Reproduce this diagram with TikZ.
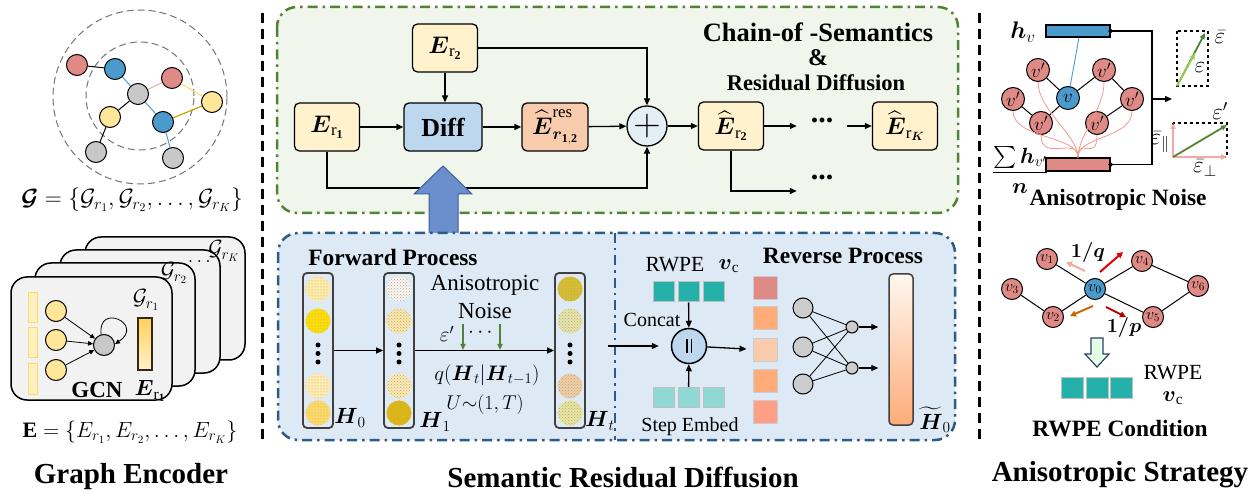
\RequirePackage{fix-cm}
\documentclass[tikz,border=0pt]{standalone}
\usepackage{amsmath,amssymb}
\usepackage{fontspec}
\setmainfont{Liberation Serif}
\usetikzlibrary{arrows.meta,shapes.geometric,patterns,calc}
\definecolor{eyel}{HTML}{FFF2CC}
\definecolor{dblue}{HTML}{BDD7EE}
\definecolor{dorange}{HTML}{F8CBAD}
\definecolor{plusbg}{HTML}{E4EEF5}
\definecolor{gpanel}{HTML}{F0F6EC}
\definecolor{gborder}{HTML}{548235}
\definecolor{bpanel}{HTML}{DDE9F5}
\definecolor{bborder}{HTML}{2E5A88}
\definecolor{nred}{HTML}{E08A85}
\definecolor{nblue}{HTML}{4A9BCB}
\definecolor{ngray}{HTML}{C8C8C8}
\definecolor{nyel}{HTML}{FFE699}
\definecolor{teala}{HTML}{26B0AA}
\definecolor{tealb}{HTML}{90D8D3}
\definecolor{bigarrow}{HTML}{6A8FCC}
\definecolor{bigarrowd}{HTML}{3B5E9A}
\definecolor{cardbg}{HTML}{F2F2F2}
\definecolor{dgreen}{HTML}{548235}
\definecolor{lgreen}{HTML}{92D050}
\definecolor{pinkarr}{HTML}{F4A8A0}
\definecolor{goldl}{HTML}{FFD966}
\definecolor{goldd}{HTML}{C9A000}
\newcommand{\setfs}[1]{\fontsize{#1}{#1}\selectfont}
\newcommand{\hcirc}[4]{\path[fill=#3, postaction={pattern=#4, pattern color=black!35}] (#1,#2) circle (12.5pt);}
\begin{document}
\begin{tikzpicture}[x=1pt,y=-1pt,
  arr/.style={-{Triangle[length=7pt,width=6pt]}, line width=1.3pt},
  thinarr/.style={-{Triangle[length=5pt,width=4.5pt]}, line width=0.8pt},
  ebox/.style={draw, line width=1.3pt, rounded corners=5pt, minimum width=65pt, minimum height=48pt, fill=eyel, inner sep=0pt, font=\setfs{24}},
  gnode/.style={circle, draw, line width=1pt, minimum size=21pt, inner sep=0pt},
  dashdotx/.style={line width=2.5pt, dash pattern=on 10pt off 5pt on 2.5pt off 5pt},
  vsepline/.style={line width=3pt, dash pattern=on 10pt off 6pt},
  btitle/.style={font=\bfseries\setfs{23.4}},
  bigtitle/.style={font=\bfseries\setfs{29}},
  colbox/.style={draw=black!75, line width=1.8pt, rounded corners=4pt, minimum width=30pt, minimum height=155pt, inner sep=0pt},
  sq/.style={draw=black!25, line width=1pt, minimum width=21pt, minimum height=20pt, inner sep=0pt},
  csq/.style={draw=black!20, line width=1pt, minimum width=24pt, minimum height=23pt, inner sep=0pt},
  vnode/.style={circle, draw, line width=1pt, fill=nred, minimum size=23pt, inner sep=0pt, font=\setfs{19}},
  wnode/.style={circle, draw, line width=1pt, fill=nred, minimum size=21pt, inner sep=0pt, font=\setfs{16}},
  lbl/.style={font=\setfs{22}, inner sep=0pt},
  cardbox/.style={draw, line width=1.5pt, fill=cardbg, rounded corners=16pt},
  dotsnode/.style={font=\bfseries\setfs{30}, minimum width=50pt, inner sep=0pt},
]
\useasboundingbox (0,0) rectangle (1256,494);

% ================= LEFT: Graph Encoder =================
\draw[black!55, line width=1pt, dash pattern=on 7pt off 4pt] (140,97) circle (87pt);
\draw[black!55, line width=1pt, dash pattern=on 7pt off 4pt] (140,96) circle (54pt);
\node[gnode, fill=nred] (ga) at (77,65) {};
\node[gnode, fill=nblue] (gb) at (115,69) {};
\node[gnode, fill=nred] (gc) at (172,78) {};
\node[gnode, fill=ngray] (gd) at (138,94) {};
\node[gnode, fill=nyel] (ge) at (212,102) {};
\node[gnode, fill=nyel] (gf) at (110,117) {};
\node[gnode, fill=nblue] (gg) at (163,122) {};
\node[gnode, fill=ngray] (gh) at (96,152) {};
\node[gnode, fill=ngray] (gi) at (173,158) {};
\draw[line width=1pt] (ga) -- (gb);
\draw[nblue, line width=1pt] (gb) -- (gd);
\draw[pinkarr, line width=1pt] (gd) -- (gc);
\draw[goldl, line width=1pt] (gc) -- (ge);
\draw[goldd, line width=1.2pt] (ge) -- (gg);
\draw[nblue, line width=1pt] (gd) -- (gg);
\draw[line width=1pt] (gd) -- (gf);
\draw[line width=1pt] (gf) -- (gh);
\draw[nblue, line width=1pt] (gg) -- (gi);
\node[lbl, font=\setfs{23.5}] (gform) at (132,200) {$\boldsymbol{\mathcal{G}}=\{\mathcal{G}_{r_1},\mathcal{G}_{r_2},\dots,\mathcal{G}_{r_K}\}$};

% cards
\draw[cardbox] (85,237) rectangle (245,360);
\draw[cardbox] (60,250) rectangle (220,373);
\draw[cardbox] (35,263) rectangle (195,386);
\draw[cardbox] (11,277) rectangle (172,400);
\node[lbl] (gk) at (224,251) {$\mathcal{G}_{r_K}$};
\node[lbl, font=\setfs{20}] (gdots) at (201,262) {$\dots$};
\node[lbl] (g2) at (174,273) {$\mathcal{G}_{r_2}$};
\node[lbl] (g1) at (146,300) {$\mathcal{G}_{r_1}$};
\foreach \yy in {293,328,364}{
  \draw[fill=nyel!60, draw=goldl, line width=1pt] (28,\yy) rectangle (37,\yy+30);
}
\node[gnode, fill=nyel] (y1) at (56,311) {};
\node[gnode, fill=nyel] (y2) at (56,340) {};
\node[gnode, fill=nyel] (y3) at (56,370) {};
\node[gnode, fill=ngray] (gcn) at (104,345) {};
\draw[thinarr] (y1) -- (gcn);
\draw[thinarr] (y2) -- (gcn);
\draw[thinarr] (y3) -- (gcn);
\draw[thinarr] (gcn.105) .. controls +(-4,-32) and +(30,-20) .. (gcn.5);
\node[draw=black!70!brown, line width=1.3pt, minimum width=14pt, minimum height=52pt, inner sep=0pt, top color=goldl!90!orange, bottom color=eyel] (ebar) at (145,344) {};
\node[font=\bfseries\setfs{23}] (gcnl) at (97,390) {GCN};
\node[lbl] (ebl) at (150,391) {$\boldsymbol{E}_{\mathrm{r}_{\mathbf{1}}}$};
\node[lbl] (eform) at (130,432) {$\mathbf{E}=\{E_{r_1},E_{r_2},\dots,E_{r_K}\}$};
\node[bigtitle] (t1) at (131,477) {Graph Encoder};

% separators
\draw[vsepline] (262,13) -- (262,440);
\draw[vsepline] (979,13) -- (979,440);

% ================= MIDDLE TOP =================
\draw[gborder, fill=gpanel, dashdotx, rounded corners=20pt] (277,7) rectangle (958,213);
\node[ebox] (er2) at (445,48) {$\boldsymbol{E}_{\mathrm{r}_{\mathbf{2}}}$};
\node[ebox] (er1) at (327,127) {$\boldsymbol{E}_{\mathrm{r}_{\mathbf{1}}}$};
\node[ebox, fill=dblue, minimum width=78pt, font=\bfseries\setfs{26}] (diff) at (443,127) {Diff};
\node[ebox, fill=dorange, minimum width=66pt] (eres) at (555,127) {$\widehat{\boldsymbol{E}}^{\mathrm{res}}_{\boldsymbol{r}_{\mathbf{1,2}}}$};
\node[circle, draw, line width=1.3pt, fill=plusbg, minimum size=40pt, inner sep=0pt, font=\setfs{38}] (plus) at (647,126) {$+$};
\node[ebox] (er2h) at (731,126) {$\widehat{\boldsymbol{E}}_{\mathrm{r}_{\mathbf{2}}}$};
\node[dotsnode] (dots1) at (822,120) {...};
\node[ebox] (erkh) at (905,126) {$\widehat{\boldsymbol{E}}_{\mathrm{r}_{\boldsymbol{K}}}$};
\node[dotsnode] (dots2) at (822,177) {...};
\coordinate (low) at (0,188);
\draw[arr] (er1) -- (diff);
\draw[arr] (er2.south) -- (er2.south |- diff.north);
\draw[arr] (diff) -- (eres);
\draw[arr] (eres) -- (plus);
\draw[arr] (er2.east) -| (plus.north);
\draw[arr] (er1.south) |- (plus.south |- low) -- (plus.south);
\draw[arr] (plus) -- (er2h);
\draw[arr] (er2h.east) -- (er2h.east -| dots1.west);
\draw[arr] (er2h.east -| dots1.east) -- (erkh.west);
\draw[arr] (er2h.south) |- ($(dots2.west)+(0,14)$);
\node[font=\bfseries\setfs{26.5}] (ct1) at (818,32) {Chain-of -Semantics};
\node[font=\bfseries\setfs{24}] (ct2) at (818,58) {\&};
\node[font=\bfseries\setfs{22.5}] (ct3) at (816,83) {Residual Diffusion};

% big arrow
\draw[fill=bigarrow, draw=bigarrowd, line width=1pt] (429,236) -- (429,194) -- (414,194) -- (443,166) -- (472,194) -- (458,194) -- (458,236) -- cycle;

% ================= MIDDLE BOTTOM =================
\draw[bborder, fill=bpanel, dashdotx, rounded corners=20pt] (278,233) rectangle (955,440);
\draw[bborder, dashdotx] (615,233) -- (615,440);
\node[btitle] (fp) at (393,257) {Forward Process};
\node[btitle] (rp) at (843,256) {Reverse Process};

\node[colbox] (c0) at (318,350.5) {};
\node[colbox] (c1) at (399,350.5) {};
\node[colbox] (ct) at (570,350.5) {};
\hcirc{318}{289}{nyel!85}{dots}
\hcirc{318}{321}{yellow!80!orange}{dots}
\hcirc{318}{386}{nyel!80}{dots}
\hcirc{318}{413}{goldl}{dots}
\hcirc{399}{289}{eyel!80!brown!20}{crosshatch dots}
\hcirc{399}{321}{goldl!60}{crosshatch dots}
\hcirc{399}{386}{goldl!55}{crosshatch dots}
\hcirc{399}{413}{orange!40!yellow!90!black}{crosshatch dots}
\hcirc{570}{289}{yellow!75!orange!85!black}{crosshatch dots}
\hcirc{570}{321}{black!25!yellow!40}{crosshatch dots}
\hcirc{570}{386}{nred!70!yellow!60}{crosshatch dots}
\hcirc{570}{413}{black!20!yellow!45}{crosshatch dots}
\foreach \cx in {318,399,570}{
  \foreach \cy in {345,353.5,362}{ \fill (\cx,\cy) circle (2.5pt); }
}
\node[lbl] (h0l) at (350,418) {$\boldsymbol{H}_0$};
\node[lbl] (h1l) at (435,422) {$\boldsymbol{H}_1$};
\node[lbl] (htl) at (600,421) {$\boldsymbol{H}_t$};
\draw[arr] (c0) -- (c1);
\draw[arr] (c1) -- (ct);
\node[font=\setfs{23}] (an1) at (485,285) {Anisotropic};
\node[font=\setfs{23}] (an2) at (485,311) {Noise};
\coordinate (g1s) at (463,324);
\coordinate (g1e) at (463,350);
\coordinate (g2s) at (500,324);
\coordinate (g2e) at (500,350);
\draw[dgreen, -{Triangle[length=6pt,width=5pt]}, line width=1.5pt] (g1s) -- (g1e);
\draw[dgreen, -{Triangle[length=6pt,width=5pt]}, line width=1.5pt] (g2s) -- (g2e);
\node[lbl, font=\setfs{21}] (epsp) at (447,334) {$\varepsilon'$};
\node[lbl, font=\setfs{21}] (edots) at (482,333) {$\cdots$};
\node[lbl, font=\setfs{21}] (qq) at (487,375) {$q(\boldsymbol{H}_t|\boldsymbol{H}_{t-1})$};
\node[lbl, font=\setfs{20}] (uu) at (485,404) {$U{\sim}(1,T)$};

% reverse
\node[circle, draw, line width=1.5pt, fill=dblue, minimum size=35pt, inner sep=0pt] (cat) at (689,346) {\rule{1.6pt}{14pt}\hspace{3pt}\rule{1.6pt}{14pt}};
\draw[arr, shorten <=22pt, shorten >=12pt] (ct.east |- cat) -- (cat);
\node[font=\setfs{21.6}] (rw1) at (675,265) {RWPE};
\node[lbl] (vc1) at (729,266) {$\boldsymbol{v}_{\mathrm{c}}$};
\node[sq, fill=teala] (sa1) at (663.5,292) {};
\node[sq, fill=teala] (sa2) at (688.5,292) {};
\node[sq, fill=teala] (sa3) at (713.5,292) {};
\node[sq, fill=tealb] (sb1) at (663.5,397.5) {};
\node[sq, fill=tealb] (sb2) at (688.5,397.5) {};
\node[sq, fill=tealb] (sb3) at (713.5,397.5) {};
\draw[arr] (sa2) -- (cat);
\draw[arr] (sb2) -- (cat);
\node[font=\setfs{20}] (ccl) at (652,320) {Concat};
\node[font=\setfs{20}] (sel) at (690,427) {Step Embed};
\node[csq, fill=nred] (q1) at (765,288.5) {};
\node[csq, fill=orange!45!pink!90!white] (q2) at (765,318.5) {};
\node[csq, fill=dorange] (q3) at (765,350) {};
\node[csq, fill=orange!45!pink!90!white] (q4) at (765,380.5) {};
\node[csq, fill=red!35!orange!30!pink] (q5) at (765,411.5) {};
\draw[arr, shorten >=6pt] (cat) -- (q3);
\node[circle, draw, line width=1pt, fill=black!20, minimum size=20pt, inner sep=0pt] (n1) at (803,308) {};
\node[circle, draw, line width=1pt, fill=black!20, minimum size=20pt, inner sep=0pt] (n2) at (803,347) {};
\node[circle, draw, line width=1pt, fill=black!20, minimum size=20pt, inner sep=0pt] (n3) at (803,384) {};
\node[circle, draw, line width=1pt, fill=black!20, minimum size=12pt, inner sep=0pt] (o1) at (852,327) {};
\node[circle, draw, line width=1pt, fill=black!20, minimum size=12pt, inner sep=0pt] (o2) at (852,368) {};
\foreach \a in {n1,n2,n3}{ \foreach \b in {o1,o2}{ \draw[line width=0.8pt] (\a) -- (\b); } }
\node[draw=black!75, line width=1.5pt, rounded corners=4pt, minimum width=24pt, minimum height=151pt, inner sep=0pt, top color=orange!6!white, bottom color=orange!45!pink!90!white] (hbar) at (901,349.5) {};
\draw[arr, shorten >=10pt] (o1) -- (o1 -| hbar.west);
\draw[arr, shorten >=10pt] (o2) -- (o2 -| hbar.west);
\node[lbl] (h0t) at (935,420) {$\widetilde{\boldsymbol{H}}_0$};
\node[bigtitle] (t2) at (623,477) {Semantic Residual Diffusion};

% ================= RIGHT =================
\node[lbl, font=\setfs{24}] (hvl) at (1023,32) {$\boldsymbol{h}_v$};
\node[draw, line width=1.2pt, fill=nblue, minimum width=64pt, minimum height=12pt, inner sep=0pt] (hb) at (1078,31) {};
\node[draw, line width=1.2pt, fill=nred, minimum width=64pt, minimum height=13pt, inner sep=0pt] (rb) at (1078,164.5) {};
\node[vnode] (p1) at (1038,70) {$v'$};
\node[vnode] (p2) at (1013,99) {$v'$};
\node[vnode] (p3) at (1041,123) {$v'$};
\node[vnode, fill=nblue] (vv) at (1068,98) {$v$};
\node[vnode] (p4) at (1097,123) {$v'$};
\node[vnode] (p5) at (1104,70) {$v'$};
\node[vnode] (p6) at (1132,99) {$v'$};
\draw[line width=1pt] (p1) -- (vv);
\draw[line width=1pt] (vv) -- (p3);
\draw[line width=1pt] (p2) -- (p3);
\draw[line width=1pt] (vv) -- (p5);
\draw[line width=1pt] (p4) -- (p6);
\draw[line width=1pt] (p5) -- (p6);
\draw[nblue, line width=0.9pt] (vv) -- ($(hb.south)+(1,0)$);
\foreach \p in {p1,p2,p3,p4,p5,p6}{
  \draw[pinkarr!90!red, line width=0.8pt] (\p.south) .. controls +(0,28) and +(0,-22) .. (rb.north);
}
\node[fill=black, inner sep=0pt, minimum size=5pt, shape=diamond] (hd) at (hb.east) {};
\node[fill=black, inner sep=0pt, minimum size=5pt, shape=diamond] (rd) at (rb.east) {};
\coordinate (jn) at (1152,99);
\coordinate (jo) at (1172,99);
\draw[line width=1.2pt] (hb.east) -| (jn) |- (rb.east);
\draw[arr] (jn) -- (jo);
\node[lbl] (frac) at (1020,170) {$\dfrac{\sum\boldsymbol{h}_{v'}}{\boldsymbol{n}}$};
\node[btitle] (ant) at (1118,200) {Anisotropic Noise};

% vectors
\draw[dashed, line width=1.2pt] (1177,31) rectangle (1208,86);
\coordinate (ua) at (1177,86);
\coordinate (ub) at (1205,33);
\coordinate (uc) at (1195,53);
\draw[dgreen, -{Triangle[length=6pt,width=5pt]}, line width=1.8pt] (ua) -- (ub);
\draw[lgreen, -{Triangle[length=6pt,width=5pt]}, line width=1.8pt] (ua) -- (uc);
\node[lbl, font=\setfs{23}] (eb) at (1220,37) {$\bar{\varepsilon}$};
\node[lbl, font=\setfs{23}] (ee) at (1200,68) {$\varepsilon$};
\draw[dashed, line width=1.2pt] (1173,123) rectangle (1227,157);
\coordinate (la) at (1173,157);
\coordinate (lb) at (1227,125);
\coordinate (lc) at (1227,157);
\coordinate (ld) at (1173,123);
\draw[pinkarr, -{Triangle[length=6pt,width=5pt]}, line width=1.8pt] (la) -- (lc);
\draw[pinkarr, -{Triangle[length=6pt,width=5pt]}, line width=1.8pt] (la) -- (ld);
\draw[dgreen, -{Triangle[length=6pt,width=5pt]}, line width=1.8pt] (la) -- (lb);
\node[lbl, font=\setfs{23}] (ep) at (1220,111) {$\varepsilon'$};
\node[lbl, font=\setfs{23}] (epa) at (1160,142) {$\bar{\varepsilon}_{\parallel}$};
\node[lbl, font=\setfs{23}] (epe) at (1205,168) {$\bar{\varepsilon}_{\perp}$};

% random walk graph
\node[wnode] (w1) at (1047,259) {$v_1$};
\node[wnode] (w3) at (1012,289) {$v_3$};
\node[wnode] (w2) at (1053,317) {$v_2$};
\node[wnode, fill=nblue] (w0) at (1095,289) {$v_0$};
\node[wnode] (w4) at (1142,261) {$v_4$};
\node[wnode] (w5) at (1153,317) {$v_5$};
\node[wnode] (w6) at (1198,286) {$v_6$};
\draw[line width=1pt] (w1) -- (w0);
\draw[line width=1pt] (w3) -- (w2);
\draw[line width=1pt] (w2) -- (w0);
\draw[line width=1pt] (w0) -- (w4);
\draw[line width=1pt] (w0) -- (w5);
\draw[line width=1pt] (w4) -- (w6);
\draw[line width=1pt] (w5) -- (w6);
\coordinate (a1s) at (1085,271); \coordinate (a1e) at (1066,262);
\coordinate (a2s) at (1100,272); \coordinate (a2e) at (1123,252);
\coordinate (a3s) at (1093,306); \coordinate (a3e) at (1070,316);
\coordinate (a4s) at (1106,307); \coordinate (a4e) at (1126,317);
\draw[pinkarr, -{Triangle[length=6pt,width=6pt]}, line width=2pt] (a1s) -- (a1e);
\draw[red!90!black, -{Triangle[length=6pt,width=6pt]}, line width=2pt] (a2s) -- (a2e);
\draw[orange!80!black, -{Triangle[length=6pt,width=6pt]}, line width=2pt] (a3s) -- (a3e);
\draw[red!75!black, -{Triangle[length=6pt,width=6pt]}, line width=2pt] (a4s) -- (a4e);
\node[lbl, font=\setfs{20}] (oq) at (1088,253) {$\boldsymbol{1/q}$};
\node[lbl, font=\setfs{20}] (op) at (1124,328) {$\boldsymbol{1/p}$};
\draw[fill=green!10!white, draw=bigarrowd!70!black, line width=1.2pt] (1091,338) -- (1103,338) -- (1103,354) -- (1109,354) -- (1097,367) -- (1085,354) -- (1091,354) -- cycle;
\node[sq, fill=teala, minimum width=22pt, minimum height=21pt] (r1) at (1072,387.5) {};
\node[sq, fill=teala, minimum width=22pt, minimum height=21pt] (r2) at (1097,387.5) {};
\node[sq, fill=teala, minimum width=22pt, minimum height=21pt] (r3) at (1121.5,387.5) {};
\node[font=\setfs{21.6}] (rw2) at (1173,373) {RWPE};
\node[lbl] (vc2) at (1173,398) {$\boldsymbol{v}_{\mathrm{c}}$};
\node[btitle] (rwc) at (1120,429) {RWPE Condition};
\node[bigtitle] (t3) at (1120,475) {Anisotropic Strategy};
\end{tikzpicture}
\end{document}
